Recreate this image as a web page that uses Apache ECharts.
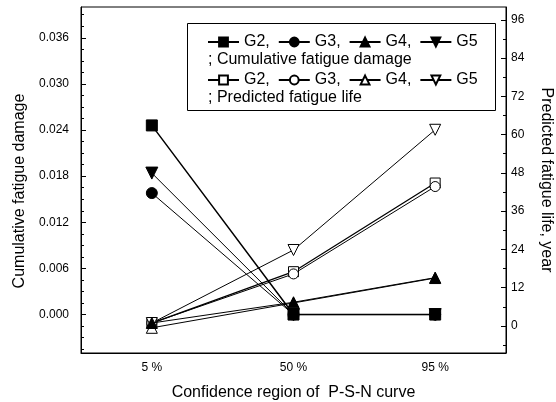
<!DOCTYPE html>
<html>
<head>
<meta charset="utf-8">
<script src="https://cdn.jsdelivr.net/npm/echarts@6/dist/echarts.min.js"></script>
<style>html,body{margin:0;padding:0;background:#fff}#c{width:556px;height:402px}</style>
</head>
<body>
<div id="c"></div>
<script>
// ---- data ----
var categories = ['5 %', '50 %', '95 %'];
var damageG2 = [0.0246, 0.0, 0.0];
var damageG3 = [0.0158, 0.0, 0.0];
var damageG4 = [-0.0011, 0.0016, 0.0048];
var damageG5 = [0.0184, 0.0, 0.0];
var lifeG2 = [0.9, 17.0, 44.8];
var lifeG3 = [0.9, 16.3, 43.7];
var lifeG4 = [-0.6, 7.2, 15.0];
var lifeG5 = [0.9, 23.8, 61.5];
var leftTicks = [0, 0.006, 0.012, 0.018, 0.024, 0.030, 0.036];
var rightTicks = [0, 12, 24, 36, 48, 60, 72, 84, 96];
var leftMinorTicks = [-0.0045, -0.003, -0.0015, 0.0015, 0.003, 0.0045, 0.0075, 0.009, 0.0105, 0.0135, 0.015, 0.0165, 0.0195, 0.021, 0.0225, 0.0255, 0.027, 0.0285, 0.0315, 0.033, 0.0345, 0.0375, 0.039];
var rightMinorTicks = [-6, 6, 18, 30, 42, 54, 66, 78, 90];

var FONT = '"Liberation Sans", Arial, sans-serif';
var downTri = 'path://M0,0 L10,0 L5,9 Z';
var names = {
  dG2: 'G2,', dG3: 'G3,', dG4: 'G4,', dG5: 'G5',
  lG2: 'G2,', lG3: 'G3,', lG4: 'G4,', lG5: 'G5'
};

function mk(name, data, axis, symbol, filled, size, width) {
  return {
    name: name, type: 'line', data: data, yAxisIndex: axis,
    symbol: symbol, symbolSize: size, showSymbol: true,
    lineStyle: {color: '#000', width: width || 1},
    itemStyle: filled ? {color: '#000', borderColor: '#000', borderWidth: 1}
                      : {color: '#fff', borderColor: '#000', borderWidth: 1},
    emphasis: {disabled: true},
    z: filled ? 3 : 2
  };
}

var chart = echarts.init(document.getElementById('c'), null, {renderer: 'canvas'});
var yMinL = -0.005, yMaxL = 0.040, yMinR = -8.5, yMaxR = 100;

chart.setOption({
  animation: false,
  backgroundColor: '#fff',
  textStyle: {fontFamily: FONT},
  grid: {left: 81, right: 50, top: 7, bottom: 49, containLabel: false, outerBoundsMode: 'none',
         show: true, borderColor: '#000', borderWidth: 1},
  xAxis: {
    type: 'category', data: categories, boundaryGap: true,
    axisLine: {onZero: false, lineStyle: {color: '#000', width: 1}},
    axisTick: {inside: true, alignWithLabel: true, length: 5, lineStyle: {color: '#000'}},
    axisLabel: {color: '#000', fontSize: 12, fontFamily: FONT, margin: 9},
    name: 'Confidence region of  P-S-N curve', nameLocation: 'middle', nameGap: 32,
    nameTextStyle: {color: '#000', fontSize: 16, fontFamily: FONT},
    splitLine: {show: false}
  },
  yAxis: [
    {
      type: 'value', position: 'left', min: yMinL, max: yMaxL,
      axisLine: {show: true, onZero: false, lineStyle: {color: '#000'}},
      axisTick: {show: true, inside: true, length: 5, customValues: leftTicks, lineStyle: {color: '#000'}},
      axisLabel: {color: '#000', fontSize: 12, fontFamily: FONT, margin: 12, customValues: leftTicks,
                  formatter: function (v) { return v.toFixed(3); }},
      splitLine: {show: false},
      name: 'Cumulative fatigue damage', nameLocation: 'middle', nameGap: 49,
      nameTextStyle: {color: '#000', fontSize: 16, fontFamily: FONT, padding: [0, 22, 0, 0]}
    },
    {
      type: 'value', position: 'right', min: yMinR, max: yMaxR,
      axisLine: {show: true, onZero: false, lineStyle: {color: '#000'}},
      axisTick: {show: true, inside: true, length: 5, customValues: rightTicks, lineStyle: {color: '#000'}},
      axisLabel: {color: '#000', fontSize: 12, fontFamily: FONT, margin: 5, customValues: rightTicks},
      splitLine: {show: false},
      name: 'Predicted fatigue life, year', nameLocation: 'middle', nameGap: 32, nameRotate: -90,
      nameTextStyle: {color: '#000', fontSize: 16, fontFamily: FONT}
    },
    {
      type: 'value', position: 'left', min: yMinL, max: yMaxL,
      axisLine: {show: false},
      axisTick: {show: true, inside: true, length: 3, customValues: leftMinorTicks, lineStyle: {color: '#000'}},
      axisLabel: {show: false}, splitLine: {show: false}
    },
    {
      type: 'value', position: 'right', min: yMinR, max: yMaxR,
      axisLine: {show: false},
      axisTick: {show: true, inside: true, length: 3, customValues: rightMinorTicks, lineStyle: {color: '#000'}},
      axisLabel: {show: false}, splitLine: {show: false}
    }
  ],
  legend: [
    {
      data: ['dG2', 'dG3', 'dG4', 'dG5'], left: 207, top: 34, orient: 'horizontal',
      itemWidth: 31, itemHeight: 11, itemGap: 8, padding: 0,
      formatter: function (n) { return names[n]; },
      textStyle: {color: '#000', fontSize: 16, fontFamily: FONT}
    },
    {
      data: ['lG2', 'lG3', 'lG4', 'lG5'], left: 207, top: 72, orient: 'horizontal',
      itemWidth: 31, itemHeight: 11, itemGap: 8, padding: 0,
      formatter: function (n) { return names[n]; },
      textStyle: {color: '#000', fontSize: 16, fontFamily: FONT}
    }
  ],
  graphic: [
    {type: 'rect', left: 187, top: 23, z: 0, silent: true,
     shape: {width: 308, height: 87}, style: {fill: '#fff', stroke: '#000', lineWidth: 1}},
    {type: 'text', left: 208, top: 52, z: 10, silent: true,
     style: {text: '; Cumulative fatigue damage', fill: '#000', fontSize: 16, fontFamily: FONT}},
    {type: 'text', left: 208, top: 90, z: 10, silent: true,
     style: {text: '; Predicted fatigue life', fill: '#000', fontSize: 16, fontFamily: FONT}}
  ],
  series: [
    mk('lG2', lifeG2, 1, 'rect', false, 10, 1.3),
    mk('lG3', lifeG3, 1, 'circle', false, 10, 1),
    mk('lG4', lifeG4, 1, 'triangle', false, 11, 1),
    mk('lG5', lifeG5, 1, downTri, false, 11, 1),
    mk('dG2', damageG2, 0, 'rect', true, 11, 1.5),
    mk('dG3', damageG3, 0, 'circle', true, 11, 1),
    mk('dG4', damageG4, 0, 'triangle', true, 11, 1),
    mk('dG5', damageG5, 0, downTri, true, 12, 1)
  ]
});
</script>
</body>
</html>
